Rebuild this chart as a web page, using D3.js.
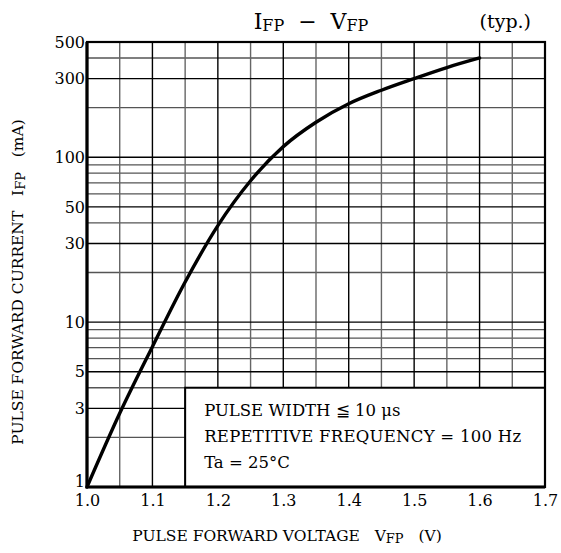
<!DOCTYPE html>
<html>
<head>
<meta charset="utf-8">
<script src="https://cdn.jsdelivr.net/npm/d3@7"></script>
<style>
  body { margin: 0; background: #fff; }
  svg text { font-family: "DejaVu Serif", "Liberation Serif", serif; fill: #000; }
</style>
</head>
<body>
<svg id="chart" width="561" height="553"></svg>
<script>
// curve (V, mA)
var voltage = [1.0, 1.05, 1.1, 1.15, 1.2, 1.25, 1.3, 1.35, 1.4, 1.45, 1.5, 1.55, 1.6];
var current = [1, 2.8, 7.1, 17.5, 38.5, 72, 116, 163, 211, 255, 300, 350, 400];

var xTicks = [1.0, 1.1, 1.2, 1.3, 1.4, 1.5, 1.6, 1.7];
var xMinor = [1.05, 1.15, 1.25, 1.35, 1.45, 1.55, 1.65];
var yTicks = [1, 3, 5, 10, 30, 50, 100, 300, 500];
var yMinor = [2, 4, 6, 7, 8, 9, 20, 40, 60, 70, 80, 90, 200, 400];
var noteLines = ["PULSE WIDTH \u2266 10 \u03bcs", "REPETITIVE FREQUENCY = 100 Hz", "Ta = 25\u00b0C"];

var margin = {left: 87, right: 16, top: 42, bottom: 66};
var svg = d3.select("#chart"),
    width = +svg.attr("width") - margin.left - margin.right,
    height = +svg.attr("height") - margin.top - margin.bottom;

var g = svg.append("g")
    .attr("transform", "translate(" + margin.left + "," + margin.top + ")");

var xScale = d3.scaleLinear().domain([1.0, 1.7]).range([0, width]);
var yScale = d3.scaleLog().domain([1, 500]).range([height, 0]);

// grid - minor first, major on top
g.selectAll(".hminor").data(yMinor).enter().append("line")
    .attr("x1", 0).attr("x2", width)
    .attr("y1", function(d) { return yScale(d); })
    .attr("y2", function(d) { return yScale(d); })
    .attr("stroke", "#555").attr("stroke-width", 1.3);
g.selectAll(".vminor").data(xMinor).enter().append("line")
    .attr("y1", 0).attr("y2", height)
    .attr("x1", function(d) { return xScale(d); })
    .attr("x2", function(d) { return xScale(d); })
    .attr("stroke", "#666").attr("stroke-width", 1.4);
g.selectAll(".hmajor").data(yTicks).enter().append("line")
    .attr("x1", 0).attr("x2", width)
    .attr("y1", function(d) { return yScale(d); })
    .attr("y2", function(d) { return yScale(d); })
    .attr("stroke", "#000").attr("stroke-width", 1.4);
g.selectAll(".vmajor").data(xTicks).enter().append("line")
    .attr("y1", 0).attr("y2", height)
    .attr("x1", function(d) { return xScale(d); })
    .attr("x2", function(d) { return xScale(d); })
    .attr("stroke", "#000").attr("stroke-width", 1.4);

// note box covers the grid in the lower right
var boxX = xScale(1.15), boxY = yScale(4);
g.append("rect")
    .attr("x", boxX).attr("y", boxY)
    .attr("width", width - boxX).attr("height", height - boxY)
    .attr("fill", "#fff").attr("stroke", "#000").attr("stroke-width", 2);

g.selectAll(".note").data(noteLines).enter().append("text")
    .attr("x", boxX + 19)
    .attr("y", function(d, i) { return boxY + 28 + i * 26; })
    .attr("font-size", 16.5)
    .attr("textLength", function(d, i) { return i == 1 ? 317 : null; })
    .text(function(d) { return d; });

// frame
g.append("rect")
    .attr("width", width).attr("height", height)
    .attr("fill", "none").attr("stroke", "#000").attr("stroke-width", 2.2);
g.append("path")
    .attr("d", "M0,0V" + height + "H" + width)
    .attr("fill", "none").attr("stroke", "#000").attr("stroke-width", 3.2);

// the curve
var pts = voltage.map(function(v, i) { return {v: v, i: current[i]}; });
var line = d3.line()
    .x(function(d) { return xScale(d.v); })
    .y(function(d) { return yScale(d.i); })
    .curve(d3.curveMonotoneX);
g.append("path").datum(pts)
    .attr("d", line)
    .attr("fill", "none").attr("stroke", "#000").attr("stroke-width", 3.4)
    .attr("stroke-linecap", "round");

// axes, no tick marks, no domain
var xAxis = d3.axisBottom(xScale).tickValues(xTicks).tickSize(0).tickPadding(8)
    .tickFormat(d3.format(".1f"));
var yAxis = d3.axisLeft(yScale).tickValues(yTicks).tickSize(0).tickPadding(2)
    .tickFormat(d3.format("d"));

g.append("g").attr("transform", "translate(0," + height + ")").call(xAxis)
    .attr("font-family", "DejaVu Serif").attr("font-size", 16)
    .call(function(a) { a.select(".domain").remove(); })
    .selectAll("text").attr("font-size", 16).attr("font-family", "DejaVu Serif");
g.append("g").call(yAxis)
    .attr("font-family", "DejaVu Serif").attr("font-size", 16)
    .call(function(a) { a.select(".domain").remove(); })
    .selectAll("text").attr("font-size", 16).attr("font-family", "DejaVu Serif")
    .attr("dy", function(d) { return d === 1 ? "-0.05em" : "0.32em"; });

// title
var title = svg.append("text").attr("x", 311).attr("y", 29)
    .attr("text-anchor", "middle").attr("font-size", 22).style("white-space", "pre");
title.append("tspan").text("I");
title.append("tspan").attr("font-size", 16).attr("dy", 2).text("FP");
title.append("tspan").attr("dy", -2).text("  \u2212  V");
title.append("tspan").attr("font-size", 16).attr("dy", 2).text("FP");

svg.append("text").attr("x", 531).attr("y", 28)
    .attr("text-anchor", "end").attr("font-size", 19).text("(typ.)");

// axis titles
var xt = svg.append("text").attr("x", 287).attr("y", 541)
    .attr("text-anchor", "middle").attr("font-size", 15.5).style("white-space", "pre");
xt.append("tspan").text("PULSE FORWARD VOLTAGE   V");
xt.append("tspan").attr("font-size", 13).attr("dy", 2).text("FP");
xt.append("tspan").attr("dy", -2).text("   (V)");

var yt = svg.append("text")
    .attr("transform", "translate(23,282) rotate(-90)")
    .attr("text-anchor", "middle").attr("font-size", 15.5).style("white-space", "pre");
yt.append("tspan").text("PULSE FORWARD CURRENT   I");
yt.append("tspan").attr("font-size", 13).attr("dy", 2).text("FP");
yt.append("tspan").attr("dy", -2).text("   (mA)");
</script>
</body>
</html>
